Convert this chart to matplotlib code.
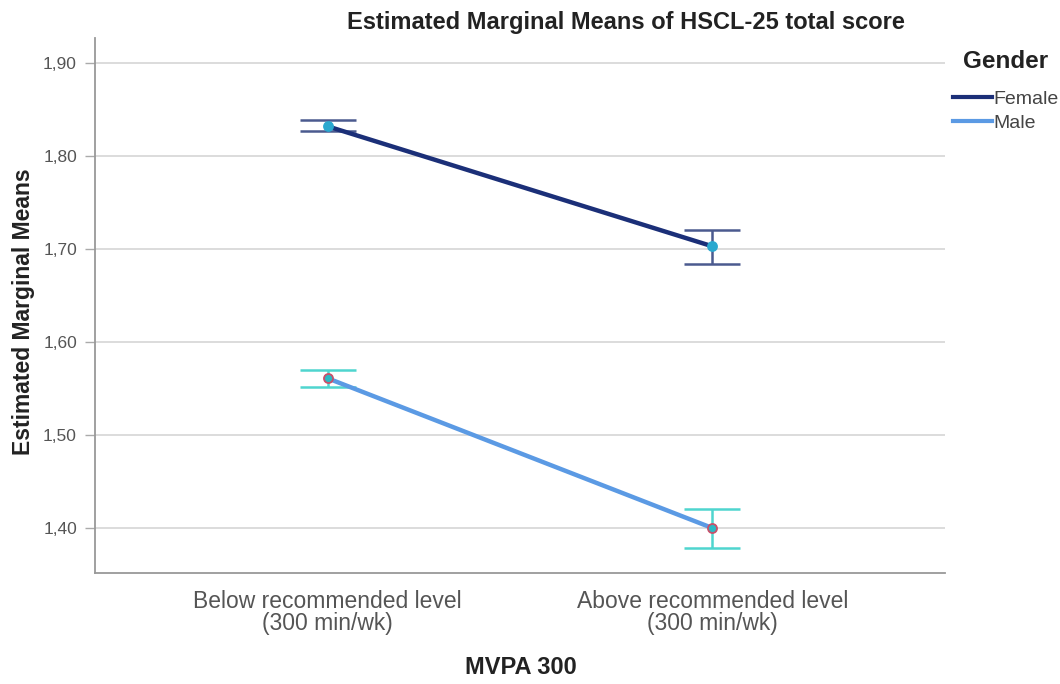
import matplotlib.pyplot as plt
from matplotlib.lines import Line2D

plt.rcParams['font.family'] = ['Liberation Sans', 'DejaVu Sans']

# data
categories = ['Below recommended level\n(300 min/wk)', 'Above recommended level\n(300 min/wk)']
female_mean = [1.832, 1.703]
female_low = [1.827, 1.684]
female_high = [1.839, 1.721]
male_mean = [1.561, 1.400]
male_low = [1.552, 1.379]
male_high = [1.570, 1.420]
yticks = [1.40, 1.50, 1.60, 1.70, 1.80, 1.90]

fig = plt.figure(figsize=(10.6, 6.84), dpi=100)
ax = fig.add_axes([0.0896, 0.1623, 0.8019, 0.7821])

xx = list(range(len(categories)))

def draw_series(mean, low, high, line_col, err_col, dot_col, dot_edge):
    yerr = [[m - l for m, l in zip(mean, low)], [h - m for m, h in zip(mean, high)]]
    ax.errorbar(xx, mean, yerr=yerr, fmt='none', ecolor=err_col, elinewidth=1.8,
                capsize=20.5, capthick=1.8, zorder=3)
    ax.plot(xx, mean, color=line_col, lw=3.2, zorder=4, solid_capstyle='round')
    ax.plot(xx, mean, 'o', ms=6.5, color=dot_col, mec=dot_edge, mew=1.3, zorder=5)

draw_series(female_mean, female_low, female_high, '#1b2f78', '#4b5a8f', '#2aa8cf', '#2aa8cf')
draw_series(male_mean, male_low, male_high, '#5b9ae4', '#4fd5cf', '#2bb9c4', '#c8506a')

ax.set_xlim(-0.605, 1.605)
ax.set_ylim(1.3516, 1.927)
ax.set_yticks(yticks)
ax.set_yticklabels([('%.2f' % v).replace('.', ',') for v in yticks], color='#555555', fontsize=12.5)
ax.set_xticks(xx)
ax.set_xticklabels(categories, color='#555555', fontsize=16.5, linespacing=0.95)
ax.tick_params(axis='x', length=0, pad=12)
ax.tick_params(axis='y', length=7, color='#aaaaaa', width=1, pad=6)
ax.grid(axis='y', color='#d9d9d9', lw=1.3, zorder=0)
ax.set_axisbelow(True)
for s in ['top', 'right']:
    ax.spines[s].set_visible(False)
for s in ['left', 'bottom']:
    ax.spines[s].set_color('#999999')
    ax.spines[s].set_linewidth(1.3)

fig.text(626 / 1060, 1 - 22 / 684, 'Estimated Marginal Means of HSCL-25 total score',
         ha='center', va='center', fontsize=17, fontweight='bold', color='#222222')
fig.text(521 / 1060, 1 - 668 / 684, 'MVPA 300', ha='center', va='center',
         fontsize=17, fontweight='bold', color='#222222')
fig.text(24 / 1060, 1 - 312 / 684, 'Estimated Marginal Means', ha='center', va='center',
         rotation=90, fontsize=16.5, fontweight='bold', color='#222222')

fig.text(963 / 1060, 1 - 61 / 684, 'Gender', ha='left', va='center',
         fontsize=17.5, fontweight='bold', color='#222222')
handles = [Line2D([0], [0], color='#1b2f78', lw=3), Line2D([0], [0], color='#5b9ae4', lw=3)]
leg = fig.legend(handles, ['Female', 'Male'], loc='upper left',
                 bbox_to_anchor=(939 / 1060, 1 - 77 / 684), frameon=False,
                 fontsize=14, handlelength=2.0, handletextpad=0.1, labelspacing=0.3,
                 borderaxespad=0.3)
for t in leg.get_texts():
    t.set_color('#444444')

fig.savefig('out.png', dpi=100)
